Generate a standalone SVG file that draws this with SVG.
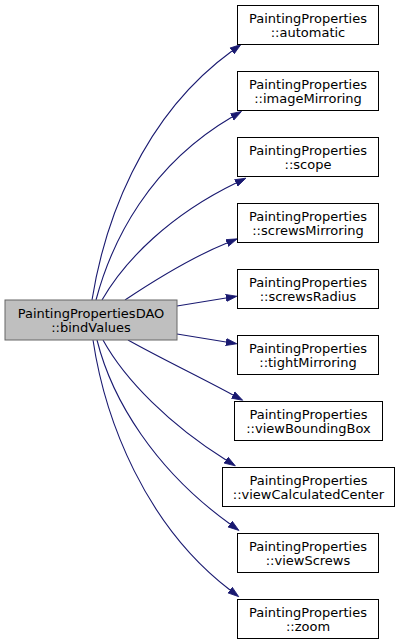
<svg xmlns="http://www.w3.org/2000/svg" width="401" height="640" viewBox="0 0 401 640">
<style>
.n rect{fill:#ffffff;stroke:#000000;stroke-width:1}
.cur rect{fill:#bfbfbf;stroke:#666666;stroke-width:1}
text{font-family:"DejaVu Sans","Liberation Sans",sans-serif;font-size:13px;fill:#000000;text-anchor:middle}
.e path{fill:none;stroke:#191970;stroke-width:1.1}
</style>
<defs>
<marker id="ah" markerUnits="userSpaceOnUse" markerWidth="12" markerHeight="10" refX="0" refY="4" orient="auto" viewBox="0 0 12 8">
<path d="M0,0.4 L11,4 L0,7.6 z" fill="#191970" stroke="#191970" stroke-width="0.8"/>
</marker>
</defs>
<rect width="401" height="640" fill="#ffffff"/>
<g id="edges" class="e">
<path marker-end="url(#ah)" d="M92,300 C104,225 140,118 232,51"/>
<path marker-end="url(#ah)" d="M96,300 C112,240 150,165 232,117"/>
<path marker-end="url(#ah)" d="M102,300 C125,260 170,215 236,183"/>
<path marker-end="url(#ah)" d="M125,300 C155,280 190,258 227,243"/>
<path marker-end="url(#ah)" d="M177,306 L226,298"/>
<path marker-end="url(#ah)" d="M177,334 L226,342"/>
<path marker-end="url(#ah)" d="M128,340 C160,358 200,377 233,395"/>
<path marker-end="url(#ah)" d="M103,340 C125,380 170,425 226,460"/>
<path marker-end="url(#ah)" d="M97,340 C112,400 155,470 230,524"/>
<path marker-end="url(#ah)" d="M93,340 C105,420 145,525 230,590"/>
</g>
<g id="node_bindValues" class="cur"><rect x="5" y="300" width="172" height="40"/><text x="91" y="318">PaintingPropertiesDAO</text><text x="91" y="331.5">::bindValues</text></g>
<g id="node_automatic" class="n"><rect x="237.5" y="5.5" width="141" height="39"/><text x="308" y="23">PaintingProperties</text><text x="308" y="36.5">::automatic</text></g>
<g id="node_imageMirroring" class="n"><rect x="237.5" y="71.5" width="141" height="39"/><text x="308" y="89">PaintingProperties</text><text x="308" y="102.5">::imageMirroring</text></g>
<g id="node_scope" class="n"><rect x="237.5" y="137.5" width="141" height="39"/><text x="308" y="155">PaintingProperties</text><text x="308" y="168.5">::scope</text></g>
<g id="node_screwsMirroring" class="n"><rect x="237.5" y="203.5" width="141" height="39"/><text x="308" y="221">PaintingProperties</text><text x="308" y="234.5">::screwsMirroring</text></g>
<g id="node_screwsRadius" class="n"><rect x="237.5" y="269.5" width="141" height="39"/><text x="308" y="287">PaintingProperties</text><text x="308" y="300.5">::screwsRadius</text></g>
<g id="node_tightMirroring" class="n"><rect x="237.5" y="335.5" width="141" height="39"/><text x="308" y="353">PaintingProperties</text><text x="308" y="366.5">::tightMirroring</text></g>
<g id="node_viewBoundingBox" class="n"><rect x="234.5" y="401.5" width="148" height="39"/><text x="308.5" y="419">PaintingProperties</text><text x="308.5" y="432.5">::viewBoundingBox</text></g>
<g id="node_viewCalculatedCenter" class="n"><rect x="222.5" y="467.5" width="172" height="39"/><text x="308.5" y="485">PaintingProperties</text><text x="308.5" y="498.5">::viewCalculatedCenter</text></g>
<g id="node_viewScrews" class="n"><rect x="237.5" y="533.5" width="141" height="39"/><text x="308" y="551">PaintingProperties</text><text x="308" y="564.5">::viewScrews</text></g>
<g id="node_zoom" class="n"><rect x="237.5" y="599.5" width="141" height="39"/><text x="308" y="617">PaintingProperties</text><text x="308" y="630.5">::zoom</text></g>
</svg>
